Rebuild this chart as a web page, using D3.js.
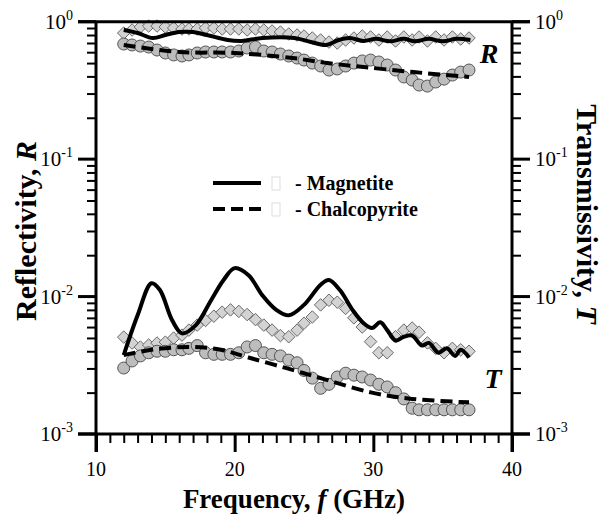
<!DOCTYPE html>
<html>
<head>
<meta charset="utf-8">
<script src="https://cdn.jsdelivr.net/npm/d3@7"></script>
<style>
  body { margin: 0; background: #fff; }
  svg text { font-family: "Liberation Serif", "Times New Roman", serif; }
</style>
</head>
<body>
<div id="chart"></div>
<script>
// measured frequencies (GHz)
var freq = [12.0, 12.6, 13.2, 13.8, 14.4, 15.0, 15.6, 16.2, 16.7, 17.3, 17.9, 18.5, 19.1, 19.7, 20.3,
    20.9, 21.5, 22.1, 22.7, 23.3, 23.9, 24.5, 25.0, 25.6, 26.2, 26.8, 27.4, 28.0, 28.6, 29.2,
    29.8, 30.4, 31.0, 31.6, 32.2, 32.8, 33.3, 33.9, 34.5, 35.1, 35.7, 36.3, 36.9];

// reflectivity data
var magR = [0.827, 0.870, 0.915, 0.930, 0.930, 0.915, 0.900, 0.885, 0.885, 0.885, 0.900, 0.900, 0.885, 0.885, 0.885,
    0.870, 0.885, 0.870, 0.856, 0.841, 0.814, 0.800, 0.787, 0.761, 0.736, 0.711, 0.699, 0.736, 0.761, 0.787,
    0.774, 0.736, 0.774, 0.724, 0.774, 0.736, 0.774, 0.724, 0.774, 0.736, 0.774, 0.748, 0.761];
var chalR = [0.688, 0.677, 0.665, 0.654, 0.622, 0.592, 0.573, 0.563, 0.573, 0.592, 0.602, 0.602, 0.602, 0.602, 0.612,
    0.644, 0.654, 0.612, 0.602, 0.582, 0.563, 0.544, 0.526, 0.500, 0.476, 0.445, 0.453, 0.476, 0.500, 0.518,
    0.526, 0.509, 0.484, 0.445, 0.396, 0.376, 0.346, 0.340, 0.364, 0.382, 0.409, 0.430, 0.445];

// transmissivity data
var magT = [0.00507, 0.00459, 0.00429, 0.00444, 0.00459, 0.00466, 0.00499, 0.00524, 0.0057, 0.0062, 0.0067, 0.0072, 0.0077, 0.0080, 0.0078,
    0.0074, 0.0068, 0.0062, 0.0057, 0.0052, 0.0051, 0.0057, 0.0064, 0.0071, 0.0087, 0.0094, 0.0091, 0.0082, 0.0070, 0.0060,
    0.0047, 0.0039, 0.0039, 0.0051, 0.0057, 0.0059, 0.0055, 0.0046, 0.0042, 0.0039, 0.0042, 0.0041, 0.0040];
var chalT = [0.00302, 0.0034, 0.0037, 0.0039, 0.0040, 0.0040, 0.0041, 0.0041, 0.0042, 0.0044, 0.0039, 0.0038, 0.0038, 0.0038, 0.0039,
    0.0043, 0.0044, 0.0039, 0.0038, 0.0037, 0.00345, 0.0033, 0.0029, 0.00255, 0.00215, 0.0023, 0.0026, 0.00277, 0.00268, 0.0026,
    0.00247, 0.0023, 0.0022, 0.0020, 0.0018, 0.00154, 0.0015, 0.0015, 0.0015, 0.0015, 0.0015, 0.0015, 0.0015];

// fitted curves
var fitMagRf = [12, 13, 14.1, 15, 16, 17, 18, 19.5, 20.5, 22, 24.3, 25.5, 26.6, 27.5, 28.3, 29.3, 30.2, 31.2, 32.2, 33, 34, 35, 36, 37];
var fitMagR = [0.870, 0.827, 0.761, 0.800, 0.841, 0.841, 0.800, 0.736, 0.724, 0.761, 0.761, 0.711, 0.677, 0.736, 0.761, 0.724, 0.750, 0.720, 0.750, 0.720, 0.750, 0.720, 0.750, 0.736];
var fitChalRf = [12, 16, 20, 24.2, 26.7, 29.3, 32.9, 36.9];
var fitChalR = [0.677, 0.602, 0.592, 0.544, 0.500, 0.468, 0.430, 0.396];
var fitMagTf = [12, 13, 14, 14.6, 15.5, 16.2, 17.2, 18.3, 19.2, 20, 21, 22, 23, 23.9, 25, 26.2, 26.8, 27.6, 28.5, 29.3,
    29.9, 30.5, 31, 31.6, 32.2, 32.8, 33.5, 34, 34.7, 35.3, 35.9, 36.3, 36.9];
var fitMagT = [0.00375, 0.0073, 0.0125, 0.0112, 0.0067, 0.0054, 0.0062, 0.0094, 0.0132, 0.0161, 0.0143, 0.0102, 0.0080, 0.0073, 0.0087, 0.0122, 0.0132, 0.0111, 0.0080, 0.0064,
    0.0059, 0.0065, 0.0057, 0.0048, 0.0051, 0.0052, 0.0044, 0.0046, 0.0039, 0.0042, 0.0037, 0.0041, 0.0036];
var fitChalTf = [12, 14, 16.8, 19, 21, 23.8, 26.5, 29.9, 32.8, 36.9];
var fitChalT = [0.00375, 0.0041, 0.0043, 0.0041, 0.0036, 0.0030, 0.0025, 0.0020, 0.0018, 0.0017];

var xTicks = [10, 20, 30, 40];
var yTicks = [1, 0.1, 0.01, 0.001];
var yExp = ["0", "-1", "-2", "-3"];

var width = 605,
    height = 518;

var x = d3.scaleLinear().domain([10, 40]).range([96, 512]);
var y = d3.scaleLog().domain([0.001, 1]).range([434, 21.7]);

var svg = d3.select("#chart").append("svg")
    .attr("width", width)
    .attr("height", height)
    .attr("font-family", "Liberation Serif, Times New Roman, serif");

function zip(fs, vs) {
    return fs.map(function (f, i) { return [f, vs[i]]; });
}

// markers first, fits on top
var diamond = d3.symbol().type(d3.symbolDiamond2).size(100);

function diamonds(vals) {
    svg.append("g")
        .selectAll("path")
        .data(zip(freq, vals))
        .join("path")
        .attr("d", diamond)
        .attr("transform", d => `translate(${x(d[0])},${y(d[1])})`)
        .attr("fill", "#d3d3d3")
        .attr("stroke", "#6a6a6a")
        .attr("stroke-width", 1);
}

function circles(vals) {
    svg.append("g")
        .selectAll("circle")
        .data(zip(freq, vals))
        .join("circle")
        .attr("cx", d => x(d[0]))
        .attr("cy", d => y(d[1]))
        .attr("r", 6)
        .attr("fill", "#bdbdbd")
        .attr("stroke", "#555")
        .attr("stroke-width", 1);
}

diamonds(magR);
diamonds(magT);
circles(chalR);
circles(chalT);

var line = d3.line()
    .x(d => x(d[0]))
    .y(d => y(d[1]))
    .curve(d3.curveCatmullRom);

function fit(fs, vs, dash) {
    svg.append("path")
        .datum(zip(fs, vs))
        .attr("d", line)
        .attr("fill", "none")
        .attr("stroke", "#000")
        .attr("stroke-width", 4)
        .attr("stroke-dasharray", dash ? "12,6" : null);
}

fit(fitMagRf, fitMagR, false);
fit(fitMagTf, fitMagT, false);
fit(fitChalRf, fitChalR, true);
fit(fitChalTf, fitChalT, true);

// frame
var frame = svg.append("g").attr("stroke", "#000").attr("stroke-width", 3);
frame.append("line").attr("x1", 78).attr("x2", 530).attr("y1", y(1)).attr("y2", y(1));
frame.append("line").attr("x1", 78).attr("x2", 530).attr("y1", y(0.001)).attr("y2", y(0.001));
frame.append("line").attr("x1", x(10)).attr("x2", x(10)).attr("y1", y(1)).attr("y2", 452);
frame.append("line").attr("x1", x(40)).attr("x2", x(40)).attr("y1", y(1)).attr("y2", 452);

// x axis
var xAxis = d3.axisBottom(x)
    .tickValues(d3.range(10, 41, 1))
    .tickSize(8)
    .tickFormat("");
svg.append("g")
    .attr("transform", `translate(0,${y(0.001)})`)
    .call(xAxis)
    .call(g => g.select(".domain").remove())
    .call(g => g.selectAll(".tick line").attr("y2", d => d % 10 === 0 ? 18 : 9)
        .attr("stroke-width", d => d % 10 === 0 ? 3 : 2));

svg.append("g")
    .selectAll("text")
    .data(xTicks)
    .join("text")
    .attr("x", d => x(d))
    .attr("y", 476)
    .attr("text-anchor", "middle")
    .attr("font-size", 20)
    .text(d => d);

// y axes, minor ticks outside
var minor = [];
[0.001, 0.01, 0.1].forEach(function (b) {
    for (var k = 2; k <= 9; k++) minor.push(b * k);
});

svg.append("g")
    .attr("transform", `translate(${x(10)},0)`)
    .call(d3.axisLeft(y).tickValues(minor).tickSize(9).tickFormat(""))
    .call(g => g.select(".domain").remove())
    .call(g => g.selectAll(".tick line").attr("stroke-width", 2));
svg.append("g")
    .attr("transform", `translate(${x(40)},0)`)
    .call(d3.axisRight(y).tickValues(minor).tickSize(9).tickFormat(""))
    .call(g => g.select(".domain").remove())
    .call(g => g.selectAll(".tick line").attr("stroke-width", 2));

var major = svg.append("g").attr("stroke", "#000").attr("stroke-width", 3);
yTicks.forEach(function (t) {
    major.append("line").attr("x1", 78).attr("x2", x(10)).attr("y1", y(t)).attr("y2", y(t));
    major.append("line").attr("x1", x(40)).attr("x2", 530).attr("y1", y(t)).attr("y2", y(t));
});

function powLabel(xp, anchor) {
    var t = svg.append("g")
        .selectAll("text")
        .data(yTicks)
        .join("text")
        .attr("x", xp)
        .attr("y", d => y(d) + 7)
        .attr("text-anchor", anchor)
        .attr("font-size", 21);
    t.append("tspan").text("10");
    t.append("tspan")
        .attr("font-size", 14)
        .attr("dy", -9)
        .text((d, i) => yExp[i]);
}
powLabel(73, "end");
powLabel(535, "start");

// axis titles
var xt = svg.append("text")
    .attr("x", 294)
    .attr("y", 508)
    .attr("text-anchor", "middle")
    .attr("font-size", 27)
    .attr("font-weight", "bold");
xt.append("tspan").text("Frequency, ");
xt.append("tspan").attr("font-style", "italic").text("f");
xt.append("tspan").text(" (GHz)");

var yl = svg.append("text")
    .attr("transform", "translate(36,231) rotate(-90)")
    .attr("text-anchor", "middle")
    .attr("font-size", 30)
    .attr("font-weight", "bold");
yl.append("tspan").text("Reflectivity, ");
yl.append("tspan").attr("font-style", "italic").text("R");

var yr = svg.append("text")
    .attr("transform", "translate(577,214) rotate(90)")
    .attr("text-anchor", "middle")
    .attr("font-size", 30)
    .attr("font-weight", "bold");
yr.append("tspan").text("Transmissivity, ");
yr.append("tspan").attr("font-style", "italic").text("T");

// R / T marks
svg.append("text").attr("x", 489).attr("y", 63).attr("text-anchor", "middle")
    .attr("font-size", 28).attr("font-weight", "bold").attr("font-style", "italic").text("R");
svg.append("text").attr("x", 493).attr("y", 388).attr("text-anchor", "middle")
    .attr("font-size", 28).attr("font-weight", "bold").attr("font-style", "italic").text("T");

// legend
var legend = [["- Magnetite", false], ["- Chalcopyrite", true]];
var lg = svg.append("g")
    .selectAll("g")
    .data(legend)
    .join("g")
    .attr("transform", (d, i) => `translate(213,${183 + i * 26})`);
lg.append("line")
    .attr("x1", 0).attr("x2", 48)
    .attr("stroke", "#000").attr("stroke-width", 4)
    .attr("stroke-dasharray", d => d[1] ? "12,6" : null);
lg.append("rect")
    .attr("x", 59).attr("y", -6).attr("width", 8).attr("height", 13)
    .attr("fill", "none").attr("stroke", "#ddd").attr("stroke-width", 1);
lg.append("text")
    .attr("x", 82).attr("y", 7)
    .attr("font-size", 20).attr("font-weight", "bold")
    .text(d => d[0]);
</script>
</body>
</html>
